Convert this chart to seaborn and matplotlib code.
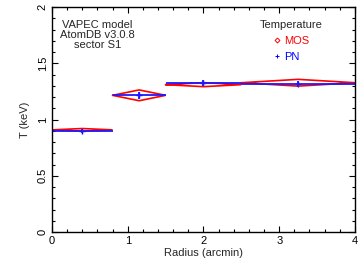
import numpy as np
import matplotlib
matplotlib.use("Agg")
import matplotlib.pyplot as plt
import seaborn as sns
from matplotlib.lines import Line2D
from matplotlib.ticker import MultipleLocator, FormatStrFormatter

# bins (arcmin): centre and half-width
radius = [0.4, 1.15, 2.0, 3.25]
radius_err = [0.4, 0.35, 0.5, 0.75]

mos_T = [0.908, 1.215, 1.31, 1.327]
mos_err = [0.012, 0.048, 0.018, 0.03]

pn_T = [0.898, 1.215, 1.322, 1.317]
pn_err = [0.015, 0.03, 0.025, 0.025]

sns.set_style("ticks")
plt.rcParams['font.family'] = ['Liberation Sans', 'DejaVu Sans']
plt.rcParams['font.size'] = 8

fig = plt.figure(figsize=(3.64, 2.59), dpi=100)
ax = fig.add_axes([0.143, 0.104, 0.832, 0.869])

# MOS: diamonds
for x, dx, y, dy in zip(radius, radius_err, mos_T, mos_err):
    xs = [x - dx, x, x + dx, x, x - dx]
    ys = [y, y + dy, y, y - dy, y]
    ax.plot(xs, ys, color='#ff0000', lw=1.2, solid_joinstyle='miter')

# PN: crosses
ax.errorbar(radius, pn_T, xerr=radius_err, yerr=pn_err, fmt='none',
            ecolor='#1a1aff', elinewidth=1.3, capsize=0)
sns.scatterplot(x=radius, y=pn_T, marker='+', color='#0000ff', s=20,
                linewidth=1, ax=ax, legend=False)

ax.set_xlim(0, 4)
ax.set_ylim(0, 2)
ax.xaxis.set_major_locator(MultipleLocator(1))
ax.xaxis.set_minor_locator(MultipleLocator(0.2))
ax.yaxis.set_major_locator(MultipleLocator(0.5))
ax.yaxis.set_minor_locator(MultipleLocator(0.1))
ax.yaxis.set_major_formatter(FormatStrFormatter('%g'))
ax.xaxis.set_major_formatter(FormatStrFormatter('%g'))
ax.tick_params(which='both', direction='in', top=True, right=True,
               colors='black', labelsize=8, width=0.8)
ax.tick_params(which='major', length=4, pad=3)
ax.tick_params(which='minor', length=2)
for lab in ax.get_yticklabels():
    lab.set_rotation(90)
    lab.set_va('center')
for sp in ax.spines.values():
    sp.set_linewidth(1)
    sp.set_color('black')

ax.set_xlabel('Radius (arcmin)', fontsize=8, labelpad=1)
ax.set_ylabel('T (keV)', fontsize=8, labelpad=6)

ax.text(0.15, 0.876, 'VAPEC model\nAtomDB v3.0.8\nsector S1', transform=ax.transAxes,
        ha='center', va='center', fontsize=8, linespacing=1.05)

handles = [
    Line2D([], [], ls='none', marker='D', markersize=2.5, markerfacecolor='none',
           markeredgecolor='#ff0000', markeredgewidth=0.7, label='MOS'),
    Line2D([], [], ls='none', marker='+', markersize=3, color='#0000ff',
           markeredgewidth=0.7, label='PN'),
]
leg = ax.legend(handles=handles, title='Temperature', loc='upper right',
                bbox_to_anchor=(0.927, 0.986), frameon=False, fontsize=8,
                title_fontsize=8, handlelength=0.6, handletextpad=0.3,
                labelspacing=0.55)
for t, c in zip(leg.get_texts(), ['#ff0000', '#0000ff']):
    t.set_color(c)

fig.savefig('out.png', dpi=100)
